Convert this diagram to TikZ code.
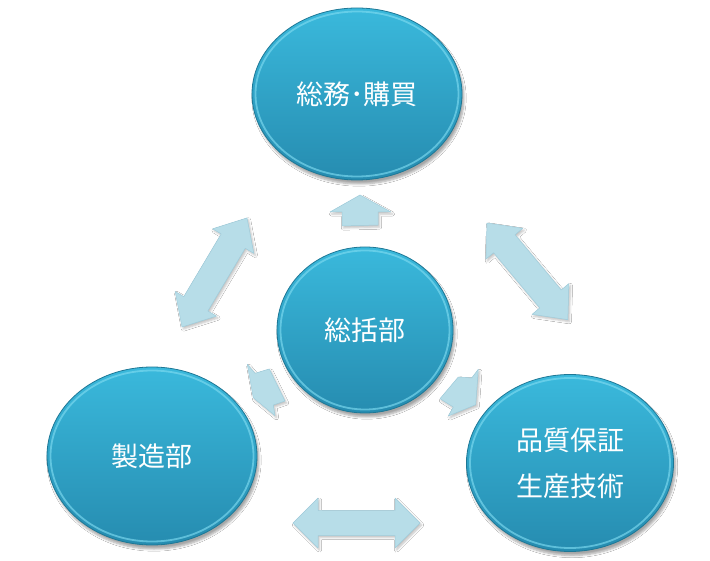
\documentclass[tikz,border=0pt]{standalone}
\usepackage{fontspec}
\setmainfont{Noto Sans CJK JP}
\usetikzlibrary{shapes.geometric,shadows.blur}
\definecolor{elltop}{RGB}{58,185,220}
\definecolor{ellbot}{RGB}{38,140,176}
\definecolor{ellrim}{RGB}{30,120,150}
\definecolor{rimlight}{RGB}{125,218,240}
\definecolor{arrfill}{RGB}{183,221,232}
\definecolor{arredge}{RGB}{160,205,220}
\tikzset{
  ell/.style={ellipse, inner sep=0pt, top color=elltop, bottom color=ellbot,
    draw=ellrim, line width=0.8pt, text=white,
    font=\fontsize{27}{46}\selectfont, align=center,
    blur shadow={shadow xshift=2pt, shadow yshift=-4pt, shadow opacity=35, shadow blur steps=6}},
  rim/.style={draw=rimlight, line width=1.8pt, opacity=0.65},
  blk/.style={fill=arrfill, draw=arredge, line width=0.5pt, line join=round,
    blur shadow={shadow xshift=1.5pt, shadow yshift=-2pt, shadow opacity=25, shadow blur steps=4}},
}
\begin{document}
\begin{tikzpicture}[x=1pt,y=-1pt]
\useasboundingbox (0,0) rectangle (710,561);
\fill[white] (0,0) rectangle (710,561);

% block arrows
\coordinate (aL) at (182,327);
\coordinate (aR) at (487,223);
\coordinate (aB) at (293,523);
\begin{scope}[shift={(aL)}, rotate=59.2]
\path[blk] (0pt,0pt) -- (27pt,24pt) -- (27pt,14pt) -- (100pt,14pt) -- (100pt,24pt) -- (127pt,0pt)
  -- (100pt,-24pt) -- (100pt,-14pt) -- (27pt,-14pt) -- (27pt,-24pt) -- cycle;
\end{scope}
\begin{scope}[shift={(aR)}, rotate=-50.1]
\path[blk] (0pt,0pt) -- (27pt,24pt) -- (27pt,14pt) -- (99pt,14pt) -- (99pt,24pt) -- (126pt,0pt)
  -- (99pt,-24pt) -- (99pt,-14pt) -- (27pt,-14pt) -- (27pt,-24pt) -- cycle;
\end{scope}
\begin{scope}[shift={(aB)}]
\path[blk] (0pt,0pt) -- (25pt,25pt) -- (25pt,12.5pt) -- (102pt,12.5pt) -- (102pt,25pt) -- (127pt,0pt)
  -- (102pt,-25pt) -- (102pt,-12.5pt) -- (25pt,-12.5pt) -- (25pt,-25pt) -- cycle;
\end{scope}
\path[blk] (360,195) -- (391,212) -- (378,212) -- (378,225) -- (342,226) -- (342,212) -- (330,212) -- cycle;
\path[blk] (247.3,364.3) -- (255,373.3) -- (269.3,369) -- (285,401) -- (273.3,405) -- (275,415.7) -- (253.3,397.7) -- cycle;
\path[blk] (478.3,369.3) -- (471.7,378) -- (458.3,377) -- (440,398.7) -- (453.3,407) -- (448.3,416) -- (475.7,404.7) -- cycle;

% ellipses
\node[ell, minimum width=210pt, minimum height=172pt] (top) at (357,94) {総務･購買};
\node[ell, minimum width=176pt, minimum height=166pt] (ctr) at (365,330) {総括部};
\node[ell, minimum width=210pt, minimum height=178pt] (lft) at (152,456) {製造部};
\node[ell, minimum width=207pt, minimum height=177pt] (rgt) at (570,463) {品質保証\\生産技術};

\draw[rim] (top.center) ellipse [x radius=101.5pt, y radius=82.5pt];
\draw[rim] (ctr.center) ellipse [x radius=84.5pt, y radius=79.5pt];
\draw[rim] (lft.center) ellipse [x radius=101.5pt, y radius=85.5pt];
\draw[rim] (rgt.center) ellipse [x radius=100pt, y radius=85pt];
\end{tikzpicture}
\end{document}
